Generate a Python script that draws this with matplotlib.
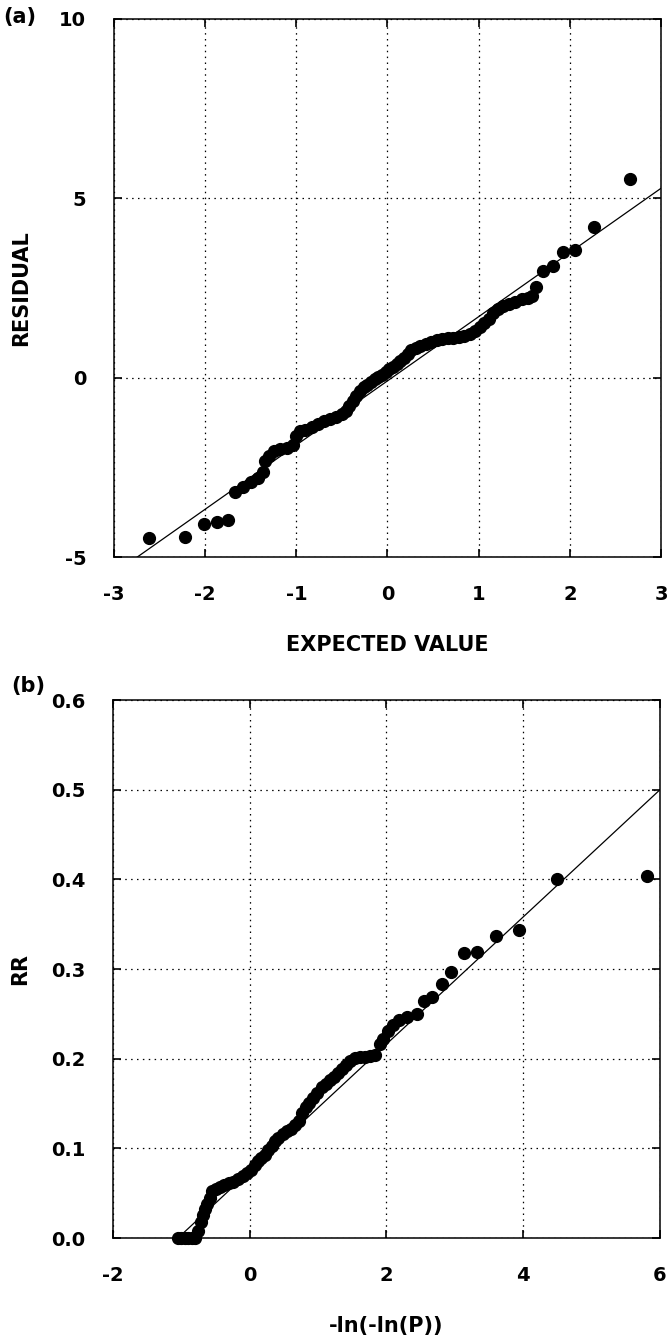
import matplotlib
matplotlib.use("Agg")
import matplotlib.pyplot as plt

plt.rcParams['font.family'] = ['DejaVu Sans']
plt.rcParams['font.weight'] = 'bold'
plt.rcParams['axes.unicode_minus'] = False

# (a) normal probability plot of residuals
expected = [-2.62, -2.22, -2.01, -1.87, -1.75,
            -1.67, -1.58, -1.50, -1.42, -1.37, -1.34, -1.30, -1.25, -1.18, -1.10,
            -1.04, -1.00, -0.96, -0.90, -0.83, -0.76, -0.70, -0.63, -0.57, -0.50,
            -0.46, -0.42, -0.38, -0.34, -0.30, -0.26, -0.22, -0.18, -0.14, -0.10,
            -0.06, -0.02, 0.02, 0.06, 0.10, 0.14, 0.18, 0.22, 0.26, 0.31,
            0.36, 0.42, 0.48, 0.54, 0.60, 0.66, 0.72, 0.78, 0.84, 0.90,
            0.96, 1.01, 1.06, 1.11, 1.16, 1.21, 1.27, 1.33, 1.40, 1.47,
            1.54, 1.58, 1.63, 1.71, 1.81, 1.92, 2.06, 2.26, 2.66]
residual = [-4.48, -4.43, -4.09, -4.01, -3.98,
            -3.20, -3.05, -2.92, -2.80, -2.62, -2.32, -2.18, -2.05, -1.98, -1.97,
            -1.88, -1.62, -1.50, -1.45, -1.38, -1.28, -1.20, -1.15, -1.10, -1.02,
            -0.92, -0.78, -0.66, -0.52, -0.38, -0.27, -0.20, -0.13, -0.05, 0.02,
            0.08, 0.16, 0.24, 0.31, 0.38, 0.46, 0.56, 0.66, 0.76, 0.84,
            0.88, 0.93, 0.99, 1.04, 1.08, 1.10, 1.11, 1.13, 1.16, 1.22,
            1.30, 1.40, 1.52, 1.64, 1.80, 1.92, 2.00, 2.05, 2.12, 2.18,
            2.22, 2.28, 2.53, 2.97, 3.12, 3.49, 3.55, 4.19, 5.55]
fit_a_x = [-2.8, 3.0]
fit_a_y = [-5.1, 5.28]

# (b) Gumbel plot of RR
gumbel = [-1.05, -1.00, -0.95, -0.90, -0.85, -0.80,
          -0.75, -0.72, -0.69, -0.66, -0.62, -0.58, -0.55, -0.50, -0.44, -0.38,
          -0.31, -0.24, -0.17, -0.10, -0.04, 0.02, 0.07, 0.12, 0.17, 0.22,
          0.27, 0.32, 0.37, 0.42, 0.48, 0.54, 0.60, 0.66, 0.72, 0.77,
          0.82, 0.87, 0.93, 0.99, 1.05, 1.11, 1.17, 1.23, 1.29, 1.35,
          1.41, 1.47, 1.54, 1.61, 1.68, 1.76, 1.83, 1.90, 1.95, 2.02,
          2.10, 2.19, 2.30, 2.44, 2.55, 2.67, 2.81, 2.95, 3.13, 3.33,
          3.60, 3.94, 4.50, 5.81]
rr = [0.0, 0.0, 0.0, 0.0, 0.0, 0.0,
      0.008, 0.018, 0.026, 0.032, 0.038, 0.045, 0.052, 0.055, 0.057, 0.059,
      0.061, 0.063, 0.066, 0.069, 0.072, 0.076, 0.081, 0.086, 0.089, 0.093,
      0.098, 0.103, 0.108, 0.112, 0.116, 0.119, 0.122, 0.126, 0.130, 0.139,
      0.146, 0.151, 0.156, 0.162, 0.168, 0.172, 0.176, 0.180, 0.184, 0.188,
      0.193, 0.198, 0.201, 0.202, 0.202, 0.203, 0.204, 0.216, 0.222, 0.231,
      0.238, 0.243, 0.247, 0.250, 0.264, 0.269, 0.283, 0.297, 0.318, 0.319,
      0.337, 0.344, 0.400, 0.404]
fit_b_x = [-1.05, 6.0]
fit_b_y = [0.0, 0.5]

fig = plt.figure(figsize=(6.67, 13.38), dpi=100)
ax1 = fig.add_axes([0.1709, 0.5837, 0.8201, 0.4021])
ax2 = fig.add_axes([0.1694, 0.0747, 0.8201, 0.4021])


def style(ax):
    ax.grid(True, color='black', linestyle=(0, (1.2, 3.5)), linewidth=0.9)
    ax.tick_params(direction='in', length=6, width=1.2, top=True, right=True,
                   labelsize=14, pad=20)
    for s in ax.spines.values():
        s.set_linewidth(1.1)
    for lab in ax.get_xticklabels() + ax.get_yticklabels():
        lab.set_fontweight('bold')


ax1.plot(fit_a_x, fit_a_y, color='black', linewidth=0.9)
ax1.plot(expected, residual, 'o', color='black', markersize=8.5, clip_on=False)
ax1.set_xlim(-3, 3)
ax1.set_ylim(-5, 10)
ax1.set_xticks([-3, -2, -1, 0, 1, 2, 3])
ax1.set_yticks([-5, 0, 5, 10])
style(ax1)
ax1.set_xlabel('EXPECTED VALUE', fontsize=15, fontweight='bold')
ax1.set_ylabel('RESIDUAL', fontsize=15, fontweight='bold')
ax1.xaxis.set_label_coords(0.5, -0.145)
ax1.yaxis.set_label_coords(-0.152, 0.5)

ax2.plot(fit_b_x, fit_b_y, color='black', linewidth=0.9)
ax2.plot(gumbel, rr, 'o', color='black', markersize=8.5, clip_on=False)
ax2.set_xlim(-2, 6)
ax2.set_ylim(0, 0.6)
ax2.set_xticks([-2, 0, 2, 4, 6])
ax2.set_yticks([0.0, 0.1, 0.2, 0.3, 0.4, 0.5, 0.6])
ax2.set_yticklabels(['0.0', '0.1', '0.2', '0.3', '0.4', '0.5', '0.6'])
style(ax2)
ax2.set_xlabel('-ln(-ln(P))', fontsize=15, fontweight='bold')
ax2.set_ylabel('RR', fontsize=15, fontweight='bold')
ax2.xaxis.set_label_coords(0.5, -0.145)
ax2.yaxis.set_label_coords(-0.152, 0.5)

fig.text(20 / 667, 1 - 17 / 1338, '(a)', fontsize=15, fontweight='bold',
         ha='center', va='center')
fig.text(28 / 667, 1 - 686 / 1338, '(b)', fontsize=15, fontweight='bold',
         ha='center', va='center')

fig.savefig('out.png', dpi=100)
